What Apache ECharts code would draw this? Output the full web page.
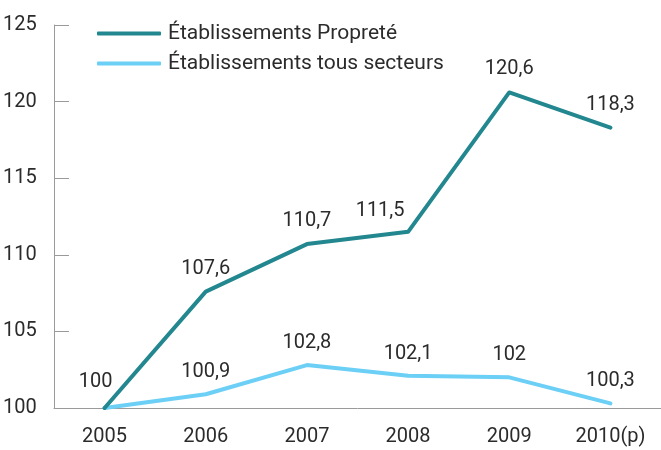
<!DOCTYPE html>
<html><head><meta charset="utf-8">
<script src="https://cdn.jsdelivr.net/npm/echarts@6/dist/echarts.min.js"></script>
<style>html,body{margin:0;padding:0;background:#fff}#c{width:661px;height:450px}</style>
</head><body><div id="c"></div>
<script>
const categories = ['2005','2006','2007','2008','2009','2010(p)'];
const seriesNames = ['Établissements Propreté','Établissements tous secteurs'];
const proprete = [100, 107.6, 110.7, 111.5, 120.6, 118.3];
const tousSecteurs = [100, 100.9, 102.8, 102.1, 102, 100.3];
const yTicks = [100, 105, 110, 115, 120, 125];

const FONT = 'Roboto';
const FS = 20;
const TXT = '#2b2b2b';
const fmt = v => String(v).replace('.', ',');

const chart = echarts.init(document.getElementById('c'), null, {renderer:'canvas'});
chart.setOption({
  animation:false,
  textStyle:{fontFamily:FONT},
  grid:{left:52,right:-3,top:25,bottom:42},
  legend:{
    orient:'vertical', left:97, top:23, itemGap:9, padding:0,
    itemWidth:64, itemHeight:4, icon:'roundRect',
    textStyle:{fontFamily:FONT,fontSize:21,color:TXT,padding:[0,0,0,2]},
    data:seriesNames
  },
  xAxis:{
    type:'category', data:categories, boundaryGap:true,
    axisLine:{lineStyle:{color:'#9a9a9a',width:1}},
    axisTick:{inside:true,length:10,lineStyle:{color:'#9a9a9a'}},
    axisLabel:{fontFamily:FONT,fontSize:FS,color:TXT,margin:19}
  },
  yAxis:{
    type:'value', min:yTicks[0], max:yTicks[yTicks.length-1], interval:5,
    axisLine:{show:true,lineStyle:{color:'#9a9a9a',width:1}},
    axisTick:{show:true,inside:true,length:15,lineStyle:{color:'#9a9a9a'}},
    splitLine:{show:false},
    axisLabel:{fontFamily:FONT,fontSize:FS,color:TXT,align:'left',margin:51}
  },
  series:[
    {
      name:seriesNames[0], type:'line', data:proprete.map((v,i)=>{
        const o={value:v};
        if(i===0) o.label={offset:[-9,-3]};
        if(i===3) o.label={offset:[-28,2]};
        return o;
      }),
      symbol:'circle', symbolSize:0, showSymbol:true, z:3,
      lineStyle:{color:'#23878f',width:4,cap:'round',join:'round'},
      itemStyle:{color:'#23878f'},
      label:{show:true,position:'top',distance:13,fontFamily:FONT,fontSize:FS,color:TXT,formatter:p=>fmt(p.value)}
    },
    {
      name:seriesNames[1], type:'line', data:tousSecteurs.map((v,i)=>{
        const o={value:v};
        if(i===0) o.label={show:false};
        return o;
      }),
      symbol:'circle', symbolSize:0, showSymbol:true, z:2,
      lineStyle:{color:'#6ccff5',width:4,cap:'round',join:'round'},
      itemStyle:{color:'#6ccff5'},
      label:{show:true,position:'top',distance:12,fontFamily:FONT,fontSize:FS,color:TXT,formatter:p=>fmt(p.value)}
    }
  ]
});
</script></body></html>
